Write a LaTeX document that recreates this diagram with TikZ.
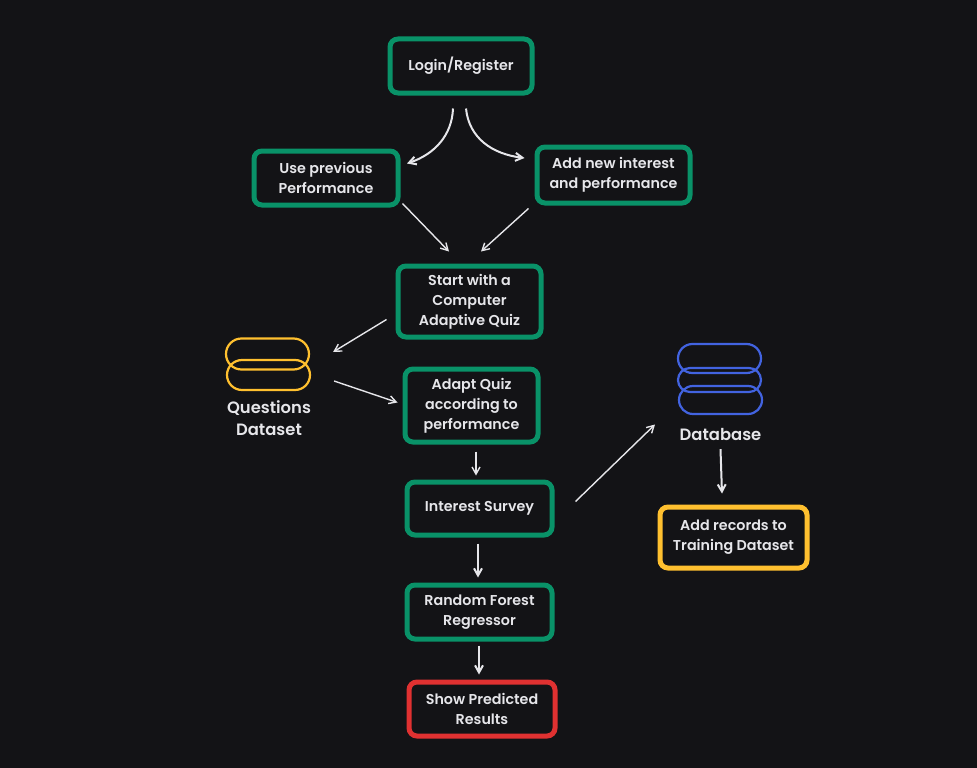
\documentclass[tikz,border=0pt]{standalone}
\usepackage{fontspec}
\setmainfont{Poppins}[UprightFont=* SemiBold]
\usepackage{xcolor}
\usetikzlibrary{shapes,arrows}
\usetikzlibrary{arrows.meta}
\definecolor{bgdark}{HTML}{131316}
\definecolor{boxgreen}{HTML}{099268}
\definecolor{boxyellow}{HTML}{FFC02F}
\definecolor{boxred}{HTML}{E03131}
\definecolor{dbblue}{HTML}{4263E0}
\definecolor{inkwhite}{HTML}{E6E6EA}

\begin{document}
\begin{tikzpicture}[x=1pt,y=-1pt]
        \tikzstyle{block} = [rectangle, draw=boxgreen, line width=5pt, rounded corners=8pt, align=center, text=inkwhite, font=\fontsize{14.3}{20}\selectfont, inner sep=0pt]
        \tikzstyle{disk} = [rounded rectangle, draw, line width=2.2pt, minimum width=83pt, inner sep=0pt]
        \tikzstyle{caption} = [align=center, text=inkwhite, font=\fontsize{16.4}{22}\selectfont]
        \tikzstyle{line} = [draw=inkwhite, line width=1.4pt, -{Straight Barb[length=2.5mm,width=2.8mm]}]
        \tikzstyle{thick line} = [line, line width=2pt]

        \fill [bgdark] (0,0) rectangle (977,768);

        % main column
        \node [block, minimum width=142pt, minimum height=54pt] (login) at (461,66) {Login/Register};
        \node [block, minimum width=144pt, minimum height=54pt, below of=login, node distance=112pt, xshift=-135pt] (previous) {Use previous\\Performance};
        \node [block, minimum width=153pt, minimum height=56pt, below of=login, node distance=109pt, xshift=152.5pt] (newinterest) {Add new interest\\and performance};
        \node [block, minimum width=143pt, minimum height=71pt, below of=login, node distance=235.5pt, xshift=8.5pt] (quiz) {Start with a\\Computer\\Adaptive Quiz};
        \node [block, minimum width=133pt, minimum height=73pt, below of=quiz, node distance=104pt, xshift=2pt] (adapt) {Adapt Quiz\\according to\\performance};
        \node [block, minimum width=145pt, minimum height=53pt, below of=adapt, node distance=103pt, xshift=8pt] (survey) {Interest Survey};
        \node [block, minimum width=145pt, minimum height=54pt, below of=survey, node distance=103.5pt] (forest) {Random Forest\\Regressor};
        \node [block, draw=boxred, minimum width=146pt, minimum height=54pt, below of=forest, node distance=97pt, xshift=2.5pt] (results) {Show Predicted\\Results};

        % questions dataset
        \node [disk, draw=boxyellow, minimum height=31pt] (qtop) at (267.5,354) {};
        \node [disk, draw=boxyellow, minimum height=30pt, below of=qtop, node distance=21pt, xshift=1pt] (qbottom) {};
        \node [caption, below of=qbottom, node distance=43.5pt, xshift=0.5pt] (questions) {Questions\\Dataset};

        % database
        \node [disk, draw=dbblue, minimum height=29pt] (dbtop) at (719.5,358.5) {};
        \node [disk, draw=dbblue, minimum height=24pt, below of=dbtop, node distance=21.5pt] (dbmiddle) {};
        \node [disk, draw=dbblue, minimum height=28pt, below of=dbmiddle, node distance=20pt, xshift=1pt] (dbbottom) {};
        \node [caption, below of=dbbottom, node distance=34.5pt] (database) {Database};
        \node [block, draw=boxyellow, minimum width=147pt, minimum height=61pt] (records) at (733.5,537.5) {Add records to\\Training Dataset};

        \path [thick line] ([shift={(-8,13)}]login.south) .. controls (452,135) and (435,154) .. ([shift={(81,15)}]previous.north);
        \path [thick line] ([shift={(5,13)}]login.south) .. controls (469,138) and (492,154) .. ([shift={(-10,-17)}]newinterest.west);
        \path [line] ([shift={(2,-4)}]previous.south east) -- ([shift={(-20.5,-12)}]quiz.north);
        \path [line] ([shift={(-85,3)}]newinterest.south) -- ([shift={(11.5,-12)}]quiz.north);
        \path [line] ([shift={(-9,18)}]quiz.west) -- ([shift={(23,-2)}]qtop.east);
        \path [line] ([shift={(23,6)}]qbottom.east) -- ([shift={(-5,-3)}]adapt.west);
        \path [line] ([shift={(4.5,7)}]adapt.south) -- ([shift={(-3.5,-4)}]survey.north);
        \path [line] ([shift={(21,-7)}]survey.east) -- ([shift={(-65.5,-10)}]database.center);
        \path [thick line] ([shift={(-1.5,6)}]survey.south) -- ([shift={(-1.5,-5)}]forest.north);
        \path [thick line] ([shift={(-0.5,4)}]forest.south) -- ([shift={(-3,-5)}]results.north);
        \path [thick line] ([shift={(0,5)}]database.south) -- ([shift={(-11.5,-11)}]records.north);

        \useasboundingbox (0,0) rectangle (977,768);
    \end{tikzpicture}
\end{document}
